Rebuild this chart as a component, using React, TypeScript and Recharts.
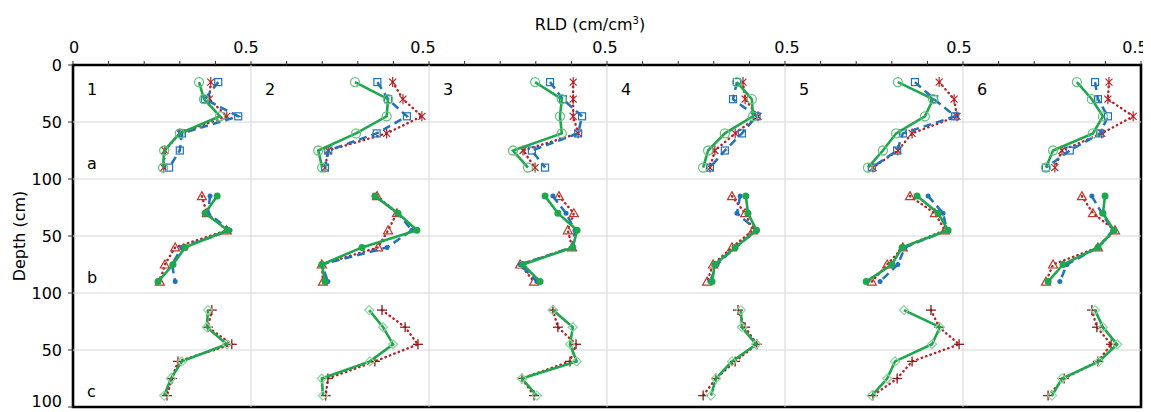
import React from 'react';
import { ScatterChart, Scatter, XAxis, YAxis, ReferenceLine, ReferenceArea, ReferenceDot } from 'recharts';

// depth of each sampling layer (cm)
const depths = [15, 30, 45, 60, 75, 90];
const panelNames = ['1', '2', '3', '4', '5', '6'];
const rowNames = ['a', 'b', 'c'];

const rldTicks = [
  0, 0.1, 0.2, 0.3, 0.4, 0.5, 0.6, 0.7, 0.8, 0.9, 1, 1.1, 1.2, 1.3, 1.4, 1.5,
  1.6, 1.7, 1.8, 1.9, 2, 2.1, 2.2, 2.3, 2.4, 2.5, 2.6, 2.7, 2.8, 2.9, 3,
];
const rldMajorLabels = ['0', '0.5', '0.5', '0.5', '0.5', '0.5', '0.5'];
const depthTicks = [0, 50, 100, 150, 200, 250, 300];
const depthTickLabels = ['0', '50', '100', '50', '100', '50', '100'];
const gridX = [0.5, 1, 1.5, 2, 2.5];
const gridY = [50, 100, 150, 200, 250];

// row a (one array per panel 1..6, values at each depth)
const aCircles = [
  [0.354, 0.368, 0.413, 0.3, 0.256, 0.253],
  [0.292, 0.385, 0.381, 0.295, 0.189, 0.2],
  [0.298, 0.373, 0.368, 0.373, 0.236, 0.278],
  [0.365, 0.407, 0.41, 0.331, 0.284, 0.27],
  [0.317, 0.416, 0.393, 0.312, 0.275, 0.233],
  [0.32, 0.362, 0.393, 0.365, 0.253, 0.233],
];
const aSquares = [
  [0.408, 0.37, 0.464, 0.306, 0.3, 0.27],
  [0.355, 0.385, 0.438, 0.353, 0.217, 0.208],
  [0.34, 0.376, 0.43, 0.419, 0.289, 0.326],
  [0.365, 0.354, 0.42, 0.379, 0.331, 0.289],
  [0.365, 0.419, 0.478, 0.331, 0.315, 0.244],
  [0.371, 0.379, 0.407, 0.385, 0.3, 0.233],
];
const aStars = [
  [0.387, 0.383, 0.432, 0.3, 0.258, 0.255],
  [0.398, 0.427, 0.48, 0.381, 0.217, 0.208],
  [0.405, 0.405, 0.405, 0.419, 0.264, 0.298],
  [0.382, 0.388, 0.424, 0.36, 0.303, 0.289],
  [0.433, 0.475, 0.483, 0.357, 0.317, 0.247],
  [0.41, 0.407, 0.478, 0.39, 0.278, 0.258],
];

// row b
const bDots = [
  [0.405, 0.371, 0.435, 0.315, 0.281, 0.239],
  [0.348, 0.413, 0.466, 0.312, 0.199, 0.208],
  [0.326, 0.362, 0.416, 0.404, 0.264, 0.312],
  [0.39, 0.396, 0.42, 0.36, 0.303, 0.295],
  [0.371, 0.43, 0.458, 0.329, 0.3, 0.228],
  [0.399, 0.393, 0.424, 0.379, 0.281, 0.239],
];
const bDashes = [
  [0.385, 0.379, 0.441, 0.306, 0.278, 0.287],
  [0.348, 0.413, 0.452, 0.382, 0.199, 0.216],
  [0.348, 0.385, 0.41, 0.402, 0.256, 0.303],
  [0.374, 0.365, 0.42, 0.36, 0.309, 0.289],
  [0.402, 0.444, 0.455, 0.337, 0.317, 0.267],
  [0.362, 0.39, 0.421, 0.379, 0.292, 0.272],
];
const bTriangles = [
  [0.362, 0.376, 0.432, 0.287, 0.258, 0.244],
  [0.354, 0.41, 0.385, 0.357, 0.199, 0.202],
  [0.365, 0.407, 0.39, 0.402, 0.256, 0.295],
  [0.351, 0.388, 0.41, 0.351, 0.298, 0.281],
  [0.351, 0.421, 0.449, 0.331, 0.287, 0.244],
  [0.334, 0.365, 0.427, 0.379, 0.253, 0.233],
];

// row c
const cDiamonds = [
  [0.379, 0.376, 0.432, 0.306, 0.275, 0.256],
  [0.332, 0.371, 0.399, 0.334, 0.199, 0.202],
  [0.348, 0.404, 0.396, 0.415, 0.261, 0.303],
  [0.376, 0.379, 0.419, 0.351, 0.306, 0.292],
  [0.334, 0.435, 0.413, 0.309, 0.287, 0.244],
  [0.371, 0.393, 0.433, 0.382, 0.278, 0.25],
];
const cPlus = [
  [0.39, 0.379, 0.446, 0.295, 0.278, 0.264],
  [0.368, 0.433, 0.469, 0.348, 0.216, 0.21],
  [0.348, 0.362, 0.413, 0.396, 0.261, 0.295],
  [0.368, 0.388, 0.421, 0.36, 0.306, 0.27],
  [0.41, 0.433, 0.489, 0.357, 0.315, 0.247],
  [0.362, 0.376, 0.416, 0.379, 0.284, 0.239],
];

const PANEL_W = 0.5;
const ROW_H = 100;

const GREEN = '#1fa64e';
const LIGHT_GREEN = '#66c480';
const BLUE = '#2272b9';
const RED = '#b2242a';

// the top labels in the original sit a little off their ticks
const majorLabelShift = [1, -5, -6, -2, 2, -4, -6];

// marker shapes
const hollowCircle = (c: string) => (p: any) => (
  <circle cx={p.cx} cy={p.cy} r={4.5} fill="none" stroke={c} strokeWidth={1.3} />
);
const filledCircle = (c: string, r: number) => (p: any) => (
  <circle cx={p.cx} cy={p.cy} r={r} fill={c} stroke="none" />
);
const hollowSquare = (c: string) => (p: any) => (
  <rect x={p.cx - 3.5} y={p.cy - 3.5} width={7} height={7} fill="none" stroke={c} strokeWidth={1.2} />
);
const star = (c: string) => (p: any) => (
  <g stroke={c} strokeWidth={1.2}>
    <line x1={p.cx - 3.5} y1={p.cy - 3.5} x2={p.cx + 3.5} y2={p.cy + 3.5} />
    <line x1={p.cx + 3.5} y1={p.cy - 3.5} x2={p.cx - 3.5} y2={p.cy + 3.5} />
    <line x1={p.cx} y1={p.cy - 5} x2={p.cx} y2={p.cy + 5} />
  </g>
);
const hollowTriangle = (c: string) => (p: any) => (
  <polygon
    points={`${p.cx},${p.cy - 4.5} ${p.cx + 4.5},${p.cy + 3.5} ${p.cx - 4.5},${p.cy + 3.5}`}
    fill="none"
    stroke={c}
    strokeWidth={1.2}
  />
);
const hollowDiamond = (c: string) => (p: any) => (
  <polygon
    points={`${p.cx},${p.cy - 4.5} ${p.cx + 4.5},${p.cy} ${p.cx},${p.cy + 4.5} ${p.cx - 4.5},${p.cy}`}
    fill="none"
    stroke={c}
    strokeWidth={1.3}
  />
);
const plus = (c: string) => (p: any) => (
  <g stroke={c} strokeWidth={1.3}>
    <line x1={p.cx - 5} y1={p.cy} x2={p.cx + 5} y2={p.cy} />
    <line x1={p.cx} y1={p.cy - 5} x2={p.cx} y2={p.cy + 5} />
  </g>
);

const DOTTED = { strokeDasharray: '0.5 4.2', strokeLinecap: 'round', strokeWidth: 2.4 };
const DASHED = { strokeDasharray: '8 5', strokeWidth: 2.5 };
const SOLID = { strokeWidth: 2.6 };

const rowSeries = [
  [
    { values: aStars, line: { stroke: RED, ...DOTTED }, shape: star(RED) },
    { values: aSquares, line: { stroke: BLUE, ...DASHED }, shape: hollowSquare(BLUE) },
    { values: aCircles, line: { stroke: GREEN, ...SOLID }, shape: hollowCircle(LIGHT_GREEN) },
  ],
  [
    { values: bTriangles, line: { stroke: RED, ...DOTTED }, shape: hollowTriangle('#c0392b') },
    { values: bDashes, line: { stroke: BLUE, ...DASHED }, shape: filledCircle(BLUE, 2.5) },
    { values: bDots, line: { stroke: GREEN, ...SOLID }, shape: filledCircle(GREEN, 3.5) },
  ],
  [
    { values: cPlus, line: { stroke: RED, ...DOTTED }, shape: plus('#8b1a1a') },
    { values: cDiamonds, line: { stroke: GREEN, ...SOLID }, shape: hollowDiamond('#8fd6a2') },
  ],
];

const toPoints = (vals: number[], panel: number, row: number) =>
  vals.map((v, i) => ({ x: panel * PANEL_W + v, y: row * ROW_H + depths[i] }));

const FONT = "'DejaVu Sans', Verdana, sans-serif";

// top axis tick: label only on the panel edges
const RldTick = (props: any) => {
  const { x, y, payload } = props;
  const halves = payload.value / PANEL_W;
  const k = Math.round(halves);
  if (Math.abs(halves - k) > 1e-6) return null;
  return (
    <text x={x + majorLabelShift[k]} y={y} textAnchor="middle" fontSize={16} fill="#000" fontFamily={FONT}>
      {rldMajorLabels[k]}
    </text>
  );
};

// left axis tick: the bottom one is nudged up so it stays inside the page
const DepthTick = (props: any) => {
  const { x, y, index } = props;
  const last = index === depthTicks.length - 1;
  return (
    <text x={x} y={last ? y - 6 : y} dy="0.355em" textAnchor="end" fontSize={16} fill="#000" fontFamily={FONT}>
      {depthTickLabels[index]}
    </text>
  );
};

export default function App() {
  return (
    <div style={{ position: 'relative', width: 1143, height: 404, fontFamily: FONT }}>
      <ScatterChart width={1143} height={404} margin={{ top: 27, right: 10, bottom: 5, left: 25 }}>
        <XAxis
          type="number"
          dataKey="x"
          orientation="top"
          domain={[0, 3]}
          ticks={rldTicks}
          interval={0}
          height={30}
          tickSize={4}
          tickMargin={8}
          axisLine={false}
          tickLine={{ stroke: '#333' }}
          tick={<RldTick />}
          allowDataOverflow
        />
        <YAxis
          type="number"
          dataKey="y"
          domain={[0, 300]}
          reversed
          ticks={depthTicks}
          interval={0}
          width={40}
          tickSize={5}
          tickMargin={6}
          axisLine={false}
          tickLine={{ stroke: '#333' }}
          tick={<DepthTick />}
          allowDataOverflow
        />
        {gridX.map((x) => (
          <ReferenceLine key={`gx${x}`} x={x} stroke="#d6d6d6" strokeWidth={1} />
        ))}
        {gridY.map((y) => (
          <ReferenceLine key={`gy${y}`} y={y} stroke="#d6d6d6" strokeWidth={1} />
        ))}
        {panelNames.map((name, p) => (
          <ReferenceDot
            key={`pl${name}`}
            x={p * PANEL_W}
            y={21}
            r={1}
            fill="none"
            stroke="none"
            label={{ value: name, position: 'right', offset: 13, fontSize: 16, fill: '#000', fontFamily: FONT }}
          />
        ))}
        {rowNames.map((name, r) => (
          <ReferenceDot
            key={`rl${name}`}
            x={0}
            y={r * ROW_H + 86}
            r={1}
            fill="none"
            stroke="none"
            label={{ value: name, position: 'right', offset: 13, fontSize: 16, fill: '#000', fontFamily: FONT }}
          />
        ))}
        {rowSeries.map((series, r) =>
          panelNames.map((_, p) =>
            series.map((s, k) => (
              <Scatter
                key={`s${r}-${p}-${k}`}
                data={toPoints(s.values[p], p, r)}
                line={s.line}
                lineType="joint"
                shape={s.shape}
                isAnimationActive={false}
              />
            ))
          )
        )}
        <ReferenceArea x1={0} x2={3} y1={0} y2={300} fill="none" fillOpacity={0} stroke="#000" strokeWidth={2.6} />
      </ScatterChart>
      <div
        style={{
          position: 'absolute',
          left: 582,
          top: 8,
          transform: 'translateX(-50%)',
          fontSize: 16,
          lineHeight: '18px',
          whiteSpace: 'nowrap',
        }}
      >
        RLD (cm/cm<sup style={{ fontSize: 10, lineHeight: 0 }}>3</sup>)
      </div>
      <div
        style={{
          position: 'absolute',
          left: 12,
          top: 228,
          transform: 'translate(-50%, -50%) rotate(-90deg)',
          fontSize: 16,
          lineHeight: '18px',
          whiteSpace: 'nowrap',
        }}
      >
        Depth (cm)
      </div>
    </div>
  );
}
